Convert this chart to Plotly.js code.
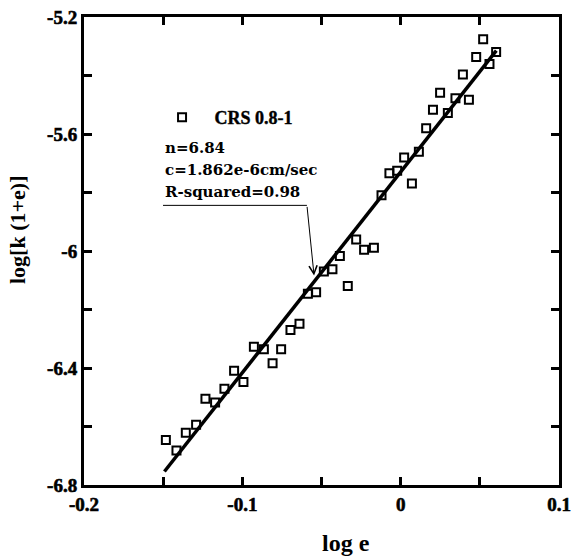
<!DOCTYPE html>
<html>
<head>
<meta charset="utf-8">
<script src="https://cdn.plot.ly/plotly-3.0.1.min.js"></script>
<style>
html,body{margin:0;padding:0;background:#fff;}
#chart{width:571px;height:556px;}
</style>
</head>
<body>
<div id="chart"></div>
<script>
// measured points: log e vs log[k(1+e)]
const logE = [-0.1483,-0.1416,-0.1357,-0.1292,-0.1233,-0.1172,-0.1113,-0.1052,-0.0993,-0.0927,
  -0.0864,-0.0809,-0.0755,-0.0696,-0.0639,-0.0586,-0.0534,-0.0485,-0.0431,-0.0384,
  -0.0334,-0.0281,-0.0231,-0.0169,-0.0121,-0.0071,-0.0022,0.0022,0.0071,0.0115,
  0.0161,0.0204,0.0249,0.0298,0.0346,0.0393,0.0431,0.0477,0.0521,0.0561,0.0603];
const logK = [-6.646,-6.682,-6.621,-6.594,-6.505,-6.518,-6.471,-6.409,-6.448,-6.327,
  -6.336,-6.384,-6.336,-6.270,-6.249,-6.146,-6.141,-6.070,-6.062,-6.017,
  -6.120,-5.961,-5.996,-5.989,-5.809,-5.734,-5.726,-5.680,-5.769,-5.661,
  -5.580,-5.517,-5.459,-5.528,-5.478,-5.397,-5.483,-5.337,-5.276,-5.361,-5.320];
// fitted line end points
const fitX = [-0.1492, 0.0604];
const fitY = [-6.754, -5.315];
// ticks
const xTickVals = [-0.2,-0.15,-0.1,-0.05,0,0.05,0.1];
const xTickText = ['-0.2','','-0.1','','0','','0.1'];
const yTickVals = [-5.2,-5.4,-5.6,-5.8,-6.0,-6.2,-6.4,-6.6,-6.8];
const yTickText = ['-5.2','','-5.6','','-6','','-6.4','','-6.8'];
const seriesName = 'CRS 0.8-1';
const statLines = ['n=6.84','c=1.862e-6cm/sec','R-squared=0.98'];

const serif = 'Liberation Serif, serif';
const note = 'DejaVu Serif, serif';
const bold = s => s ? '<b>' + s + '</b>' : '';

const traces = [
  {x: fitX, y: fitY, mode: 'lines', line: {color: '#000', width: 3.5}, showlegend: false, hoverinfo: 'skip'},
  {x: logE, y: logK, mode: 'markers', name: seriesName,
   marker: {symbol: 'square-open', size: 8, color: '#000', line: {color: '#000', width: 2}}}
];

const axisCommon = {
  showgrid: false, zeroline: false, showline: true, linecolor: '#000', linewidth: 3,
  mirror: 'ticks', ticks: 'inside', ticklen: 8, tickwidth: 3, tickcolor: '#000',
  tickmode: 'array',
  tickfont: {family: serif, size: 19, color: '#000', weight: 'bold'}
};

const layout = {
  width: 571, height: 556,
  margin: {l: 84, r: 12, t: 17, b: 71},
  paper_bgcolor: '#fff', plot_bgcolor: '#fff',
  xaxis: Object.assign({}, axisCommon, {range: [-0.2, 0.1], tickvals: xTickVals, ticktext: xTickText}),
  yaxis: Object.assign({}, axisCommon, {range: [-6.8, -5.2], tickvals: yTickVals, ticktext: yTickText}),
  showlegend: true,
  legend: {x: 0.138, y: 0.785, xanchor: 'left', yanchor: 'middle', bgcolor: 'rgba(0,0,0,0)',
    itemwidth: 55,
    font: {family: serif, size: 18, color: '#000', weight: 'bold'}},
  shapes: [
    {type: 'line', xref: 'x', yref: 'y', x0: -0.1501, y0: -5.844, x1: -0.0592, y1: -5.844,
     line: {color: '#000', width: 1}}
  ],
  annotations: [
    {xref: 'x', yref: 'y', axref: 'x', ayref: 'y', x: -0.0547, y: -6.084, ax: -0.0592, ay: -5.844,
     text: '', showarrow: true, arrowhead: 5, arrowsize: 1.6, arrowwidth: 1, arrowcolor: '#000'},
    {xref: 'paper', yref: 'paper', x: (163-84)/475, y: 1-(148-17)/468, xanchor: 'left', yanchor: 'middle',
     text: bold(statLines[0]), showarrow: false, font: {family: note, size: 15, color: '#000'}},
    {xref: 'paper', yref: 'paper', x: (163-84)/475, y: 1-(170-17)/468, xanchor: 'left', yanchor: 'middle',
     text: bold(statLines[1]), showarrow: false, font: {family: note, size: 15, color: '#000'}},
    {xref: 'paper', yref: 'paper', x: (163-84)/475, y: 1-(192-17)/468, xanchor: 'left', yanchor: 'middle',
     text: bold(statLines[2]), showarrow: false, font: {family: note, size: 15, color: '#000'}},
    {xref: 'paper', yref: 'paper', x: (346-84)/475, y: -(543-485)/468, xanchor: 'center', yanchor: 'middle',
     text: bold('log e'), showarrow: false, font: {family: serif, size: 24, color: '#000'}},
    {xref: 'paper', yref: 'paper', x: -(84-18)/475, y: 1-(230-17)/468, xanchor: 'center', yanchor: 'middle',
     text: bold('log[k (1+e)]'), textangle: -90, showarrow: false, font: {family: serif, size: 22, color: '#000'}}
  ]
};

function embolden() {
  document.querySelectorAll('#chart .xtick text, #chart .ytick text').forEach(t => {
    t.style.setProperty('stroke', '#000');
    t.style.setProperty('stroke-width', '0.6px');
  });
  document.querySelectorAll('#chart .legendtext').forEach(t => {
    t.style.setProperty('stroke', '#000');
    t.style.setProperty('stroke-width', '0.4px');
  });
}

Plotly.newPlot('chart', traces, layout, {displayModeBar: false, staticPlot: true}).then(gd => {
  embolden();
  gd.on('plotly_afterplot', embolden);
});
</script>
</body>
</html>
